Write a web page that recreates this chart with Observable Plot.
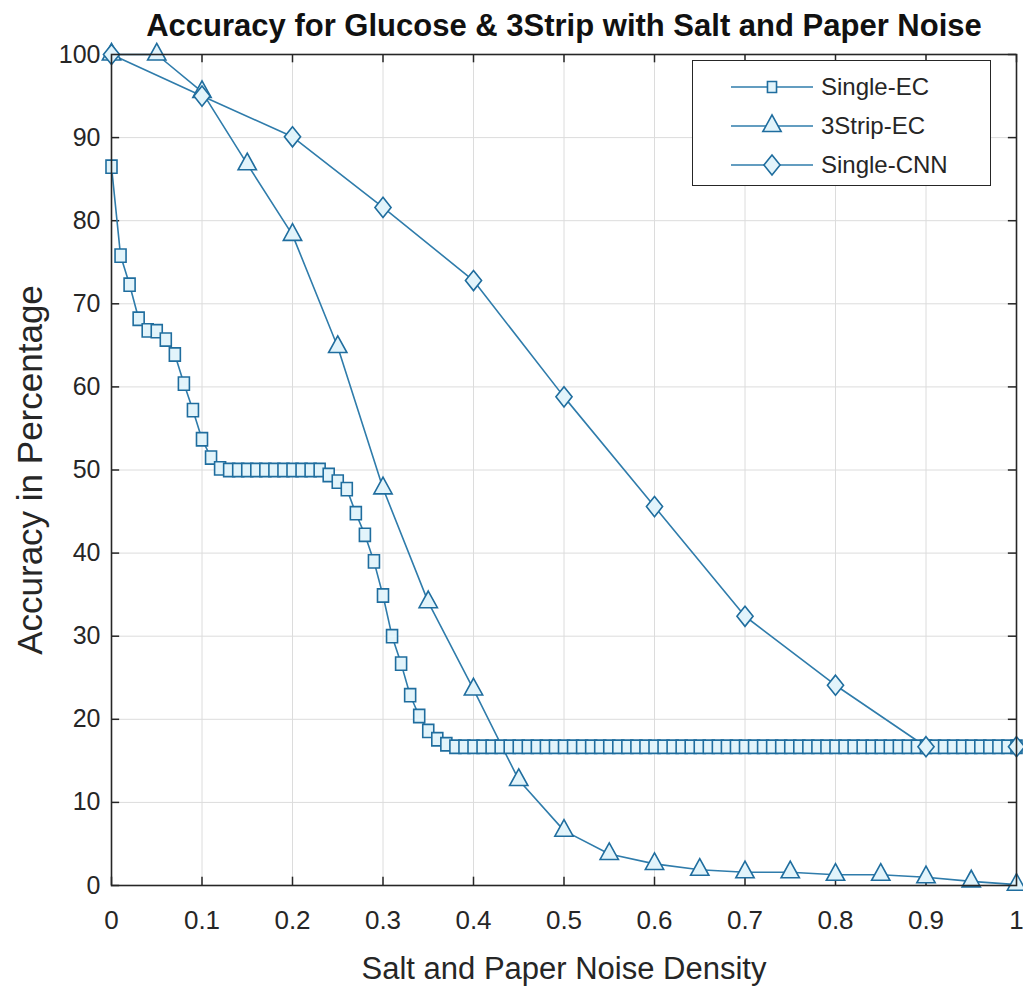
<!DOCTYPE html>
<html>
<head>
<meta charset="utf-8">
<script src="https://cdn.jsdelivr.net/npm/d3@7"></script>
<script src="https://cdn.jsdelivr.net/npm/@observablehq/plot@0.6"></script>
<style>
  html, body { margin: 0; padding: 0; background: #fff; }
  #wrap { position: relative; width: 1023px; height: 989px; overflow: hidden; }
  #legend { position: absolute; left: 692px; top: 60px; width: 299px; height: 126px;
    border: 1.3px solid #262626; background: #fff; box-sizing: border-box;
    font-family: "Liberation Sans", Arial, sans-serif; font-size: 24px; color: #262626; }
  .row { position: absolute; left: 0; height: 36px; display: flex; align-items: center; }
  .row svg { margin-left: 38px; }
  .row span { margin-left: 8px; }
</style>
</head>
<body>
<div id="wrap">
  <div id="chart"></div>
  <div id="legend"></div>
</div>
<script>
// ---- data ----
const seriesNames = ["Single-EC", "3Strip-EC", "Single-CNN"];

// Single-EC: noise density 0.00 .. 1.00 in steps of 0.01
const singleEC = [
  86.5, 75.8, 72.3, 68.2, 66.8, 66.7, 65.7, 63.9, 60.4, 57.2,
  53.7, 51.5, 50.2, 50.0, 50.0, 50.0, 50.0, 50.0, 50.0, 50.0,
  50.0, 50.0, 50.0, 50.0, 49.4, 48.6, 47.7, 44.8, 42.2, 39.0,
  34.9, 30.0, 26.7, 22.9, 20.4, 18.6, 17.6, 17.0, 16.7, 16.7,
  16.7, 16.7, 16.7, 16.7, 16.7, 16.7, 16.7, 16.7, 16.7, 16.7,
  16.7, 16.7, 16.7, 16.7, 16.7, 16.7, 16.7, 16.7, 16.7, 16.7,
  16.7, 16.7, 16.7, 16.7, 16.7, 16.7, 16.7, 16.7, 16.7, 16.7,
  16.7, 16.7, 16.7, 16.7, 16.7, 16.7, 16.7, 16.7, 16.7, 16.7,
  16.7, 16.7, 16.7, 16.7, 16.7, 16.7, 16.7, 16.7, 16.7, 16.7,
  16.7, 16.7, 16.7, 16.7, 16.7, 16.7, 16.7, 16.7, 16.7, 16.7,
  16.7
];

// 3Strip-EC: noise density 0.00 .. 1.00 in steps of 0.05
const strip3X = [0, 0.05, 0.1, 0.15, 0.2, 0.25, 0.3, 0.35, 0.4, 0.45, 0.5,
                 0.55, 0.6, 0.65, 0.7, 0.75, 0.8, 0.85, 0.9, 0.95, 1.0];
const strip3EC = [100, 100, 95.5, 86.8, 78.3, 64.8, 47.8, 34.1, 23.6, 12.7, 6.6,
                  3.8, 2.6, 1.9, 1.6, 1.6, 1.3, 1.3, 1.0, 0.5, 0.1];

// Single-CNN: noise density 0.0 .. 1.0 in steps of 0.1
const cnnX = [0, 0.1, 0.2, 0.3, 0.4, 0.5, 0.6, 0.7, 0.8, 0.9, 1.0];
const singleCNN = [100, 95.0, 90.1, 81.6, 72.8, 58.8, 45.6, 32.4, 24.1, 16.7, 16.7];

const xTicks = [0, 0.1, 0.2, 0.3, 0.4, 0.5, 0.6, 0.7, 0.8, 0.9, 1];
const yTicks = [0, 10, 20, 30, 40, 50, 60, 70, 80, 90, 100];

const titleText = "Accuracy for Glucose & 3Strip with Salt and Paper Noise";
const xLabel = "Salt and Paper Noise Density";
const yLabel = "Accuracy in Percentage";

// ---- tables ----
const dEC = singleEC.map((v, i) => ({x: i / 100, y: v}));
const d3S = strip3X.map((x, i) => ({x, y: strip3EC[i]}));
const dCNN = cnnX.map((x, i) => ({x, y: singleCNN[i]}));

const lineColor = "#2f7cab";
const markStroke = "#1f6d9e";
const markFill = "#e2f4fb";
const font = "'Liberation Sans', Arial, sans-serif";

// marker shapes (slightly taller than wide, as in the source figure)
const squareSym = {draw(ctx, size) {
  const w = Math.sqrt(size / 1.2), h = w * 1.2;
  ctx.moveTo(-w / 2, -h / 2); ctx.lineTo(w / 2, -h / 2); ctx.lineTo(w / 2, h / 2); ctx.lineTo(-w / 2, h / 2); ctx.closePath();
}};
const triSym = {draw(ctx, size) {
  const s = Math.sqrt(4 * size / Math.sqrt(3)), h = s * Math.sqrt(3) / 2 * 1.05;
  ctx.moveTo(0, -2 * h / 3); ctx.lineTo(s / 2, h / 3); ctx.lineTo(-s / 2, h / 3); ctx.closePath();
}};
const diaSym = {draw(ctx, size) {
  const w = Math.sqrt(size / 0.625), h = w * 1.25;
  ctx.moveTo(0, -h / 2); ctx.lineTo(w / 2, 0); ctx.lineTo(0, h / 2); ctx.lineTo(-w / 2, 0); ctx.closePath();
}};
const symbols = [squareSym, triSym, diaSym];
const sizes = [6.8, 6.8, 7.2];
const legendSizes = [5.6, 6.8, 7.2];

const chart = Plot.plot({
  width: 1023,
  height: 989,
  marginTop: 54,
  marginBottom: 104,
  marginLeft: 111,
  marginRight: 7,
  style: {fontFamily: font, background: "#fff", overflow: "visible"},
  x: {domain: [0, 1], ticks: xTicks, tickFormat: d => String(d)},
  y: {domain: [0, 100], ticks: yTicks},
  marks: [
    Plot.gridX(xTicks, {stroke: "#dcdcdc", strokeOpacity: 1, strokeWidth: 1}),
    Plot.gridY(yTicks, {stroke: "#dcdcdc", strokeOpacity: 1, strokeWidth: 1}),
    Plot.axisX({ticks: xTicks, tickSize: 0, tickPadding: 25, fontSize: 26, fill: "#262626", label: null, tickFormat: d => String(d)}),
    Plot.axisY({ticks: yTicks, tickSize: 0, tickPadding: 11, fontSize: 25, fill: "#262626", label: null}),
    // inward tick marks on all four sides
    Plot.ruleX(xTicks, {x: d => d, y1: 0, y2: 1, stroke: "#262626", strokeWidth: 1.5}),
    Plot.ruleX(xTicks, {x: d => d, y1: 99, y2: 100, stroke: "#262626", strokeWidth: 1.5}),
    Plot.ruleY(yTicks, {y: d => d, x1: 0, x2: 0.009, stroke: "#262626", strokeWidth: 1.5}),
    Plot.ruleY(yTicks, {y: d => d, x1: 0.991, x2: 1, stroke: "#262626", strokeWidth: 1.5}),
    Plot.line(dEC, {x: "x", y: "y", stroke: lineColor, strokeWidth: 1.6}),
    Plot.line(d3S, {x: "x", y: "y", stroke: lineColor, strokeWidth: 1.6}),
    Plot.line(dCNN, {x: "x", y: "y", stroke: lineColor, strokeWidth: 1.6}),
    Plot.dot(dEC, {x: "x", y: "y", symbol: squareSym, r: sizes[0], stroke: markStroke, strokeWidth: 1.6, fill: markFill}),
    Plot.dot(d3S, {x: "x", y: "y", symbol: triSym, r: sizes[1], stroke: markStroke, strokeWidth: 1.6, fill: markFill}),
    Plot.dot(dCNN, {x: "x", y: "y", symbol: diaSym, r: sizes[2], stroke: markStroke, strokeWidth: 1.6, fill: markFill}),
    Plot.frame({stroke: "#262626", strokeWidth: 1.6}),
    Plot.text([titleText], {frameAnchor: "top", textAnchor: "middle", dy: -19, lineAnchor: "bottom", fontSize: 31, fontWeight: "bold", fill: "#111"}),
    Plot.text([xLabel], {frameAnchor: "bottom", textAnchor: "middle", dy: 93, lineAnchor: "bottom", fontSize: 31, fill: "#262626"}),
    Plot.text([yLabel], {frameAnchor: "left", textAnchor: "middle", dx: -81, rotate: -90, fontSize: 35, fill: "#262626"})
  ]
});
document.getElementById("chart").appendChild(chart);

// ---- legend (inside the axes, top right) ----
const legend = d3.select("#legend");
seriesNames.forEach((name, i) => {
  const row = legend.append("div").attr("class", "row").style("top", (8 + i * 39) + "px");
  const svg = row.append("svg").attr("width", 82).attr("height", 36);
  svg.append("line").attr("x1", 0).attr("x2", 82).attr("y1", 18).attr("y2", 18)
    .attr("stroke", lineColor).attr("stroke-width", 1.6);
  svg.append("path").attr("transform", "translate(41,18)")
    .attr("d", d3.symbol(symbols[i], Math.PI * legendSizes[i] * legendSizes[i])())
    .attr("stroke", markStroke).attr("stroke-width", 1.6).attr("fill", markFill);
  row.append("span").text(name);
});
</script>
</body>
</html>
